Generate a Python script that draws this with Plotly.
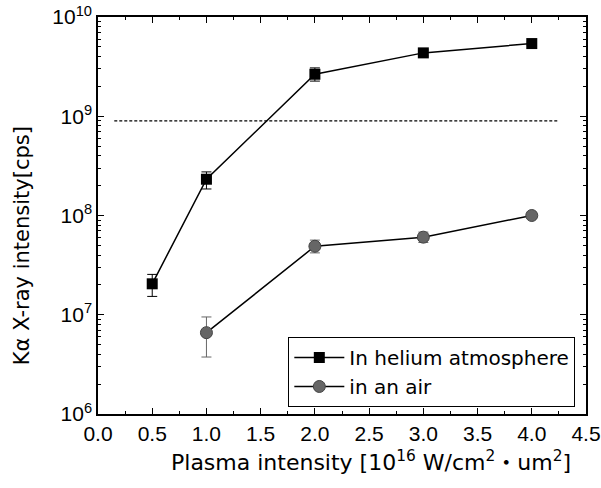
import plotly.graph_objects as go

# ---- data ----
x_he = [0.5, 1.0, 2.0, 3.0, 4.0]
y_he = [2.05e7, 2.32e8, 2.65e9, 4.35e9, 5.4e9]
he_err_plus = [0.5e7, 0.43e8, 0.42e9, 0.3e9, 0.2e9]
he_err_minus = [0.52e7, 0.47e8, 0.39e9, 0.3e9, 0.2e9]

x_air = [1.0, 2.0, 3.0, 4.0]
y_air = [6.6e6, 4.9e7, 6.05e7, 1.0e8]
air_err_plus = [2.9e6, 0.75e7, 0.75e7, 0.6e7]
air_err_minus = [2.85e6, 0.7e7, 0.7e7, 0.6e7]

threshold_x = [0.15, 4.24]
threshold_y = [9.0e8, 9.0e8]

y_major = [1e6, 1e7, 1e8, 1e9, 1e10]
y_major_text = ["10<sup>6</sup>", "10<sup>7</sup>", "10<sup>8</sup>", "10<sup>9</sup>", "10<sup>10</sup>"]
y_minor = [m * 10 ** e for e in range(6, 10) for m in range(2, 10)]
x_major = [0.0, 0.5, 1.0, 1.5, 2.0, 2.5, 3.0, 3.5, 4.0, 4.5]
x_major_text = ["%.1f" % v for v in x_major]

TICKFONT = "Liberation Sans, Arial, sans-serif"
TEXTFONT = "DejaVu Sans, Noto Sans CJK JP, sans-serif"

fig = go.Figure()

fig.add_trace(go.Scatter(
    x=threshold_x, y=threshold_y, mode="lines",
    line=dict(color="black", width=1.2, dash="3px,2px"),
    showlegend=False, hoverinfo="skip"))

fig.add_trace(go.Scatter(
    x=x_he, y=y_he, mode="lines+markers", name="In helium atmosphere",
    line=dict(color="black", width=1.5),
    marker=dict(symbol="square", size=11, color="black"),
    error_y=dict(type="data", array=he_err_plus, arrayminus=he_err_minus,
                 color="black", thickness=1, width=5)))

fig.add_trace(go.Scatter(
    x=x_air, y=y_air, mode="lines+markers", name="in an air",
    line=dict(color="black", width=1.5),
    marker=dict(symbol="circle", size=12, color="#666666",
                line=dict(color="#444444", width=1)),
    error_y=dict(type="data", array=air_err_plus, arrayminus=air_err_minus,
                 color="#666666", thickness=1, width=5)))

fig.update_layout(
    width=601, height=488,
    margin=dict(l=98, r=15, t=17, b=74),
    paper_bgcolor="white", plot_bgcolor="white",
    font=dict(family=TEXTFONT, size=20, color="black"),
    showlegend=True,
    legend=dict(x=0.39, y=0.194, xanchor="left", yanchor="top",
                bgcolor="white", bordercolor="black", borderwidth=1,
                font=dict(family=TEXTFONT, size=20), itemwidth=50,
                tracegroupgap=0),
    xaxis=dict(range=[0, 4.5], tickvals=x_major, ticktext=x_major_text,
               ticks="inside", ticklen=6, tickwidth=1, tickcolor="black",
               showline=True, linecolor="black", linewidth=1.5, mirror="ticks",
               showgrid=False, zeroline=False, automargin=False,
               tickfont=dict(family=TICKFONT, size=21),
               minor=dict(tickvals=[0.25 + 0.5 * i for i in range(9)],
                          ticks="inside", ticklen=3, tickcolor="black", showgrid=False)),
    yaxis=dict(type="log", range=[6, 10], tickvals=y_major, ticktext=y_major_text,
               ticks="inside", ticklen=6, tickwidth=1, tickcolor="black",
               showline=True, linecolor="black", linewidth=1.5, mirror="ticks",
               showgrid=False, zeroline=False, automargin=False,
               tickfont=dict(family=TICKFONT, size=21),
               minor=dict(tickvals=y_minor, ticks="inside", ticklen=3,
                          tickcolor="black", showgrid=False)),
)

fig.add_annotation(
    text="K\u03b1 X-ray intensity[cps]", textangle=-90,
    xref="paper", yref="paper", x=-0.156, y=0.425,
    xanchor="center", yanchor="middle", showarrow=False,
    font=dict(family=TEXTFONT, size=21))

fig.add_annotation(
    text="Plasma intensity [10<sup>16</sup> W/cm<sup>2</sup>\u30fbum<sup>2</sup>]",
    xref="paper", yref="paper", x=0.56, y=-0.118,
    xanchor="center", yanchor="middle", showarrow=False,
    font=dict(family=TEXTFONT, size=22))

fig.write_html("out.html")
